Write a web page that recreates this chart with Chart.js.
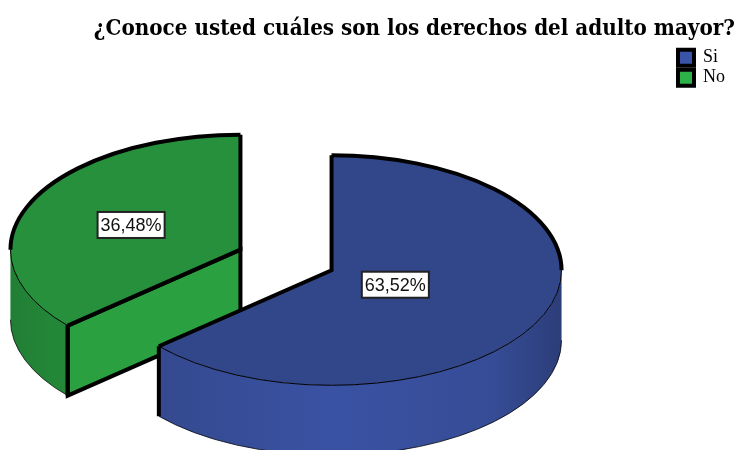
<!DOCTYPE html>
<html><head><meta charset="utf-8">
<style>html,body{margin:0;padding:0;background:#fff}#w{width:737px;height:450px}</style>
<script src="https://cdn.jsdelivr.net/npm/chart.js@4"></script></head>
<body><div id="w"><canvas id="c" width="737" height="450"></canvas></div>
<script>
const titleText = '¿Conoce usted cuáles son los derechos del adulto mayor?';
const categories = ['Si', 'No'];
const values = [63.52, 36.48];
const topColors = ['#32468a', '#27903c'];
const legendColors = ['#3a55a8', '#2db24a'];
const faceColors = ['#3a52a3', '#2aa040'];
const wallStops = [
  [[0, '#2f4280'], [0.12, '#34498f'], [0.5, '#3a52a3'], [0.85, '#364c96'], [1, '#2c3d78']],
  [[0, '#217f35'], [0.3, '#28963e'], [0.5, '#2aa040'], [1, '#217f35']]
];
const labelRadius = [70, 120];
const SQUASH = 0.5, DEPTH = 70, THICK = 4, THIN = 1, EXPLODE = 50;
const PIE_AREA = { left: 0, right: 572, top: 70, bottom: 450 };

const pie3d = {
  id: 'pie3d',
  afterLayout(chart) {
    Object.assign(chart.chartArea, PIE_AREA);
  },
  beforeDatasetDraw(chart, args) {
    const ctx = chart.ctx;
    const arcs = args.meta.data.map((el, i) => {
      const mid = (el.startAngle + el.endAngle) / 2;
      return { el, i, a: el.startAngle, b: el.endAngle, r: el.outerRadius,
        cx: el.x + Math.cos(mid) * EXPLODE, cy: el.y + SQUASH * Math.sin(mid) * EXPLODE };
    }).sort((p, q) => p.cy - q.cy);
    const pt = (s, t, d = 0) => [s.cx + s.r * Math.cos(t), s.cy + SQUASH * s.r * Math.sin(t) + d];
    const overlap = (a, b, lo, hi) => {
      for (const k of [-2, 0, 2]) {
        const l = Math.max(a, lo + k * Math.PI), h = Math.min(b, hi + k * Math.PI);
        if (h > l) return [l, h];
      }
      return null;
    };
    for (const s of arcs) {
      const front = overlap(s.a, s.b, 0, Math.PI);
      ctx.save();
      ctx.lineJoin = 'miter';
      // outer wall
      if (front) {
        const g = ctx.createLinearGradient(s.cx - s.r, 0, s.cx + s.r, 0);
        wallStops[s.i].forEach(([o, c]) => g.addColorStop(o, c));
        ctx.beginPath();
        ctx.ellipse(s.cx, s.cy, s.r, s.r * SQUASH, 0, front[0], front[1]);
        ctx.ellipse(s.cx, s.cy + DEPTH, s.r, s.r * SQUASH, 0, front[1], front[0], true);
        ctx.closePath();
        ctx.fillStyle = g;
        ctx.fill();
        ctx.beginPath();
        ctx.ellipse(s.cx, s.cy + DEPTH, s.r, s.r * SQUASH, 0, front[0], front[1]);
        ctx.strokeStyle = 'rgba(0,0,0,0.75)';
        ctx.lineWidth = THIN;
        ctx.stroke();
      }
      // radial cut faces turned towards the viewer
      const faces = [];
      if (Math.cos(s.a) < -1e-6) faces.push(s.a);
      if (Math.cos(s.b) > 1e-6) faces.push(s.b);
      for (const t of faces) {
        const p = pt(s, t), q = pt(s, t, DEPTH);
        ctx.beginPath();
        ctx.moveTo(s.cx, s.cy); ctx.lineTo(p[0], p[1]); ctx.lineTo(q[0], q[1]); ctx.lineTo(s.cx, s.cy + DEPTH);
        ctx.closePath();
        ctx.fillStyle = faceColors[s.i];
        ctx.fill();
        ctx.strokeStyle = '#000';
        ctx.lineWidth = THICK;
        ctx.stroke();
      }
      // top face, drawn by the library's arc element under a squash transform
      ctx.save();
      ctx.translate(s.cx - s.el.x, s.cy);
      ctx.scale(1, SQUASH);
      ctx.translate(0, -s.el.y);
      s.el.draw(ctx);
      ctx.restore();
      // thin front rim
      if (front) {
        ctx.beginPath();
        ctx.ellipse(s.cx, s.cy, s.r, s.r * SQUASH, 0, front[0], front[1]);
        ctx.strokeStyle = '#000'; ctx.lineWidth = THIN; ctx.stroke();
      }
      // thick back rim
      const back = overlap(s.a, s.b, -Math.PI, 0);
      ctx.strokeStyle = '#000'; ctx.lineWidth = THICK;
      if (back) {
        ctx.beginPath();
        ctx.ellipse(s.cx, s.cy, s.r, s.r * SQUASH, 0, back[0], back[1]);
        ctx.stroke();
      }
      // thick radial edges
      const pa = pt(s, s.a), pb = pt(s, s.b);
      ctx.beginPath();
      ctx.moveTo(pa[0], pa[1]); ctx.lineTo(s.cx, s.cy); ctx.lineTo(pb[0], pb[1]);
      ctx.stroke();
      // thick vertical edge at a front-facing slice corner
      for (const t of [s.a, s.b]) {
        if (Math.sin(t) > 0) {
          const p = pt(s, t);
          ctx.beginPath(); ctx.moveTo(p[0], p[1]); ctx.lineTo(p[0], p[1] + DEPTH); ctx.stroke();
        }
      }
      ctx.restore();
    }
    return false;
  },
  afterDatasetsDraw(chart) {
    const ctx = chart.ctx, meta = chart.getDatasetMeta(0);
    meta.data.forEach((el, i) => {
      const mid = (el.startAngle + el.endAngle) / 2, off = EXPLODE + labelRadius[i];
      const x = el.x + Math.cos(mid) * off, y = el.y + SQUASH * Math.sin(mid) * off;
      const text = values[i].toFixed(2).replace('.', ',') + '%';
      ctx.save();
      ctx.font = '18px "Liberation Sans"';
      const w = ctx.measureText(text).width + 6, h = 26;
      ctx.fillStyle = '#fff';
      ctx.strokeStyle = '#222';
      ctx.lineWidth = 2;
      ctx.fillRect(x - w / 2, y - h / 2, w, h);
      ctx.strokeRect(x - w / 2, y - h / 2, w, h);
      ctx.fillStyle = '#111';
      ctx.textAlign = 'center';
      ctx.textBaseline = 'middle';
      ctx.fillText(text, x, y + 1);
      ctx.restore();
    });
  }
};

new Chart(document.getElementById('c'), {
  type: 'pie',
  plugins: [pie3d],
  data: {
    labels: categories,
    datasets: [{ data: values, backgroundColor: topColors, borderWidth: 0 }]
  },
  options: {
    responsive: false,
    animation: false,
    radius: 230,
    layout: { padding: { left: 0, right: 2, top: 16, bottom: 0 } },
    plugins: {
      tooltip: { enabled: false },
      title: {
        display: true, text: titleText, align: 'end', color: '#000',
        font: { family: '"DejaVu Serif Condensed"', weight: 'bold', size: 22.2 },
        padding: { top: 0, bottom: 4 }
      },
      legend: {
        position: 'right', align: 'start', fullSize: false,
        labels: {
          color: '#000', boxWidth: 16, boxHeight: 16, padding: 2,
          font: { family: '"Liberation Serif"', size: 18 },
          generateLabels(chart) {
            return categories.map((c, i) => ({ text: c, fillStyle: legendColors[i], strokeStyle: '#000', lineWidth: 4, index: i, hidden: false }));
          }
        }
      }
    }
  }
});
</script></body></html>
